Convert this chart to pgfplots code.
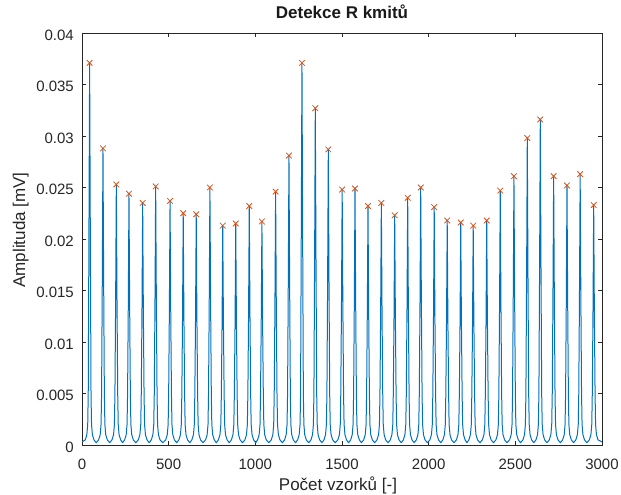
\documentclass[border=0pt]{standalone}
\usepackage{fontspec}
\setmainfont{Liberation Sans}
\usepackage{pgfplots}
\pgfplotsset{compat=1.18}
\definecolor{mblue}{rgb}{0,0.447,0.741}
\definecolor{morange}{rgb}{0.85,0.325,0.098}
\definecolor{mgray}{rgb}{0.15,0.15,0.15}
\begin{document}
\begin{tikzpicture}
\useasboundingbox (-82bp,-50bp) rectangle (539bp,445bp);
\begin{axis}[
  width=520bp, height=412bp, scale only axis,
  xmin=0, xmax=3000, ymin=0, ymax=0.04,
  scaled y ticks=false, scaled x ticks=false,
  xtick={0,500,1000,1500,2000,2500,3000},
  xticklabels={0,500,1000,1500,2000,2500,3000},
  ytick={0,0.005,0.01,0.015,0.02,0.025,0.03,0.035,0.04},
  yticklabels={0,0.005,0.01,0.015,0.02,0.025,0.03,0.035,0.04},
  tick align=inside, major tick length=4bp,
  axis line style={draw=mgray, line width=0.6bp},
  every tick/.style={draw=mgray, line width=0.6bp},
  tick label style={font=\fontsize{15bp}{17bp}\selectfont, text=mgray, inner sep=0pt},
  xticklabel style={anchor=base, yshift=-24bp},
  yticklabel style={anchor=east, xshift=-8bp, yshift=-2bp},
  title={Detekce R kmitů},
  title style={at={(axis description cs:0.5,1)}, anchor=base, yshift=9bp, inner sep=0pt, font=\fontsize{17bp}{19bp}\selectfont\bfseries, text=black!90},
  xlabel={Počet vzorků [-]},
  xlabel style={at={(axis description cs:0.5,0)}, anchor=base, yshift=-45bp, xshift=-4bp, inner sep=0pt, font=\fontsize{17bp}{19bp}\selectfont, text=mgray},
  ylabel={Amplituda [mV]},
  ylabel style={at={(axis description cs:-0.1096,0.5218)}, anchor=base, inner sep=0pt, font=\fontsize{17bp}{19bp}\selectfont, text=mgray},
  clip=true,
]
\addplot[mblue, line width=1bp, line join=round] coordinates {
(0,0.0003)
(19,0.0005)(28,0.001)(33,0.002)(36,0.005)(40,0.0204)(44,0.0371)(48,0.0204)(52,0.005)(55,0.002)(60,0.001)(69,0.0005)(82,0.00022)
(96,0.0005)(105,0.001)(110,0.002)(113,0.005)(117,0.0158)(121,0.0288)(125,0.0158)(129,0.005)(132,0.002)(137,0.001)(146,0.0005)(160,0.00022)
(173,0.0005)(182,0.001)(187,0.002)(190,0.005)(194,0.0139)(198,0.0253)(202,0.0139)(206,0.005)(209,0.002)(214,0.001)(223,0.0005)(234,0.00022)
(246,0.0005)(255,0.001)(260,0.002)(263,0.005)(267,0.0134)(271,0.0244)(275,0.0134)(279,0.005)(282,0.002)(287,0.001)(296,0.0005)(310,0.00022)
(325,0.0005)(334,0.001)(339,0.002)(342,0.005)(346,0.0129)(350,0.0235)(354,0.0129)(358,0.005)(361,0.002)(366,0.001)(375,0.0005)(388,0.00022)
(400,0.0005)(409,0.001)(414,0.002)(417,0.005)(421,0.0138)(425,0.0251)(429,0.0138)(433,0.005)(436,0.002)(441,0.001)(450,0.0005)(466,0.00022)
(483,0.0005)(492,0.001)(497,0.002)(500,0.005)(504,0.0130)(508,0.0237)(512,0.0130)(516,0.005)(519,0.002)(524,0.001)(533,0.0005)(546,0.00022)
(559,0.0005)(568,0.001)(573,0.002)(576,0.005)(580,0.0124)(584,0.0225)(588,0.0124)(592,0.005)(595,0.002)(600,0.001)(609,0.0005)(622,0.00022)
(634,0.0005)(643,0.001)(648,0.002)(651,0.005)(655,0.0123)(659,0.0224)(663,0.0123)(667,0.005)(670,0.002)(675,0.001)(684,0.0005)(698,0.00022)
(713,0.0005)(722,0.001)(727,0.002)(730,0.005)(734,0.0138)(738,0.0250)(742,0.0138)(746,0.005)(749,0.002)(754,0.001)(763,0.0005)(775,0.00022)
(787,0.0005)(796,0.001)(801,0.002)(804,0.005)(808,0.0117)(812,0.0213)(816,0.0117)(820,0.005)(823,0.002)(828,0.001)(837,0.0005)(850,0.00022)
(862,0.0005)(871,0.001)(876,0.002)(879,0.005)(883,0.0118)(887,0.0215)(891,0.0118)(895,0.005)(898,0.002)(903,0.001)(912,0.0005)(926,0.00022)
(940,0.0005)(949,0.001)(954,0.002)(957,0.005)(961,0.0128)(965,0.0232)(969,0.0128)(973,0.005)(976,0.002)(981,0.001)(990,0.0005)(1002,0.00022)
(1013,0.0005)(1022,0.001)(1027,0.002)(1030,0.005)(1034,0.0119)(1038,0.0217)(1042,0.0119)(1046,0.005)(1049,0.002)(1054,0.001)(1063,0.0005)(1078,0.00022)
(1092,0.0005)(1101,0.001)(1106,0.002)(1109,0.005)(1113,0.0135)(1117,0.0246)(1121,0.0135)(1125,0.005)(1128,0.002)(1133,0.001)(1142,0.0005)(1156,0.00022)
(1169,0.0005)(1178,0.001)(1183,0.002)(1186,0.005)(1190,0.0155)(1194,0.0281)(1198,0.0155)(1202,0.005)(1205,0.002)(1210,0.001)(1219,0.0005)(1232,0.00022)
(1244,0.0005)(1253,0.001)(1258,0.002)(1261,0.005)(1265,0.0204)(1269,0.0371)(1273,0.0204)(1277,0.005)(1280,0.002)(1285,0.001)(1294,0.0005)(1308,0.00022)
(1321,0.0005)(1330,0.001)(1335,0.002)(1338,0.005)(1342,0.0180)(1346,0.0327)(1350,0.0180)(1354,0.005)(1357,0.002)(1362,0.001)(1371,0.0005)(1384,0.00022)
(1396,0.0005)(1405,0.001)(1410,0.002)(1413,0.005)(1417,0.0158)(1421,0.0287)(1425,0.0158)(1429,0.005)(1432,0.002)(1437,0.001)(1446,0.0005)(1461,0.00022)
(1476,0.0005)(1485,0.001)(1490,0.002)(1493,0.005)(1497,0.0136)(1501,0.0248)(1505,0.0136)(1509,0.005)(1512,0.002)(1517,0.001)(1526,0.0005)(1538,0.00022)
(1550,0.0005)(1559,0.001)(1564,0.002)(1567,0.005)(1571,0.0137)(1575,0.0249)(1579,0.0137)(1583,0.005)(1586,0.002)(1591,0.001)(1600,0.0005)(1612,0.00022)
(1625,0.0005)(1634,0.001)(1639,0.002)(1642,0.005)(1646,0.0128)(1650,0.0232)(1654,0.0128)(1658,0.005)(1661,0.002)(1666,0.001)(1675,0.0005)(1688,0.00022)
(1702,0.0005)(1711,0.001)(1716,0.002)(1719,0.005)(1723,0.0129)(1727,0.0235)(1731,0.0129)(1735,0.005)(1738,0.002)(1743,0.001)(1752,0.0005)(1766,0.00022)
(1779,0.0005)(1788,0.001)(1793,0.002)(1796,0.005)(1800,0.0123)(1804,0.0223)(1808,0.0123)(1812,0.005)(1815,0.002)(1820,0.001)(1829,0.0005)(1842,0.00022)
(1854,0.0005)(1863,0.001)(1868,0.002)(1871,0.005)(1875,0.0132)(1879,0.0240)(1883,0.0132)(1887,0.005)(1890,0.002)(1895,0.001)(1904,0.0005)(1916,0.00022)
(1929,0.0005)(1938,0.001)(1943,0.002)(1946,0.005)(1950,0.0138)(1954,0.0250)(1958,0.0138)(1962,0.005)(1965,0.002)(1970,0.001)(1979,0.0005)(1993,0.00022)
(2007,0.0005)(2016,0.001)(2021,0.002)(2024,0.005)(2028,0.0127)(2032,0.0231)(2036,0.0127)(2040,0.005)(2043,0.002)(2048,0.001)(2057,0.0005)(2070,0.00022)
(2082,0.0005)(2091,0.001)(2096,0.002)(2099,0.005)(2103,0.0120)(2107,0.0218)(2111,0.0120)(2115,0.005)(2118,0.002)(2123,0.001)(2132,0.0005)(2146,0.00022)
(2160,0.0005)(2169,0.001)(2174,0.002)(2177,0.005)(2181,0.0119)(2185,0.0216)(2189,0.0119)(2193,0.005)(2196,0.002)(2201,0.001)(2210,0.0005)(2221,0.00022)
(2232,0.0005)(2241,0.001)(2246,0.002)(2249,0.005)(2253,0.0117)(2257,0.0213)(2261,0.0117)(2265,0.005)(2268,0.002)(2273,0.001)(2282,0.0005)(2296,0.00022)
(2310,0.0005)(2319,0.001)(2324,0.002)(2327,0.005)(2331,0.0120)(2335,0.0218)(2339,0.0120)(2343,0.005)(2346,0.002)(2351,0.001)(2360,0.0005)(2374,0.00022)
(2388,0.0005)(2397,0.001)(2402,0.002)(2405,0.005)(2409,0.0136)(2413,0.0247)(2417,0.0136)(2421,0.005)(2424,0.002)(2429,0.001)(2438,0.0005)(2452,0.00022)
(2467,0.0005)(2476,0.001)(2481,0.002)(2484,0.005)(2488,0.0144)(2492,0.0261)(2496,0.0144)(2500,0.005)(2503,0.002)(2508,0.001)(2517,0.0005)(2530,0.00022)
(2544,0.0005)(2553,0.001)(2558,0.002)(2561,0.005)(2565,0.0164)(2569,0.0298)(2573,0.0164)(2577,0.005)(2580,0.002)(2585,0.001)(2594,0.0005)(2606,0.00022)
(2619,0.0005)(2628,0.001)(2633,0.002)(2636,0.005)(2640,0.0174)(2644,0.0316)(2648,0.0174)(2652,0.005)(2655,0.002)(2660,0.001)(2669,0.0005)(2682,0.00022)
(2696,0.0005)(2705,0.001)(2710,0.002)(2713,0.005)(2717,0.0144)(2721,0.0261)(2725,0.0144)(2729,0.005)(2732,0.002)(2737,0.001)(2746,0.0005)(2760,0.00022)
(2773,0.0005)(2782,0.001)(2787,0.002)(2790,0.005)(2794,0.0139)(2798,0.0252)(2802,0.0139)(2806,0.005)(2809,0.002)(2814,0.001)(2823,0.0005)(2836,0.00022)
(2849,0.0005)(2858,0.001)(2863,0.002)(2866,0.005)(2870,0.0145)(2874,0.0263)(2878,0.0145)(2882,0.005)(2885,0.002)(2890,0.001)(2899,0.0005)(2913,0.00022)
(2927,0.0005)(2936,0.001)(2941,0.002)(2944,0.005)(2948,0.0128)(2952,0.0233)(2956,0.0128)(2960,0.005)(2963,0.002)(2968,0.001)(2977,0.0005)(3000,0.0003)
};
\addplot[only marks, mark=x, mark size=4bp, mark options={morange, line width=0.8bp}] coordinates {
(44,0.0371)(121,0.0288)(198,0.0253)(271,0.0244)(350,0.0235)(425,0.0251)(508,0.0237)(584,0.0225)(659,0.0224)(738,0.0250)
(812,0.0213)(887,0.0215)(965,0.0232)(1038,0.0217)(1117,0.0246)(1194,0.0281)(1269,0.0371)(1346,0.0327)(1421,0.0287)(1501,0.0248)
(1575,0.0249)(1650,0.0232)(1727,0.0235)(1804,0.0223)(1879,0.0240)(1954,0.0250)(2032,0.0231)(2107,0.0218)(2185,0.0216)(2257,0.0213)
(2335,0.0218)(2413,0.0247)(2492,0.0261)(2569,0.0298)(2644,0.0316)(2721,0.0261)(2798,0.0252)(2874,0.0263)(2952,0.0233)
};
\end{axis}
\end{tikzpicture}
\end{document}
